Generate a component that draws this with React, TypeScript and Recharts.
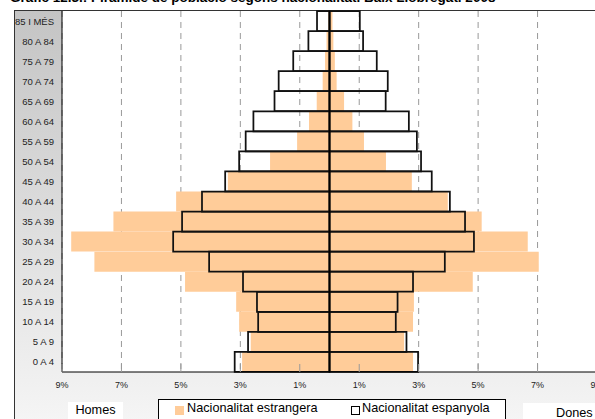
import React from 'react';
import { BarChart, Bar, XAxis, YAxis, CartesianGrid, ReferenceLine } from 'recharts';

// age groups, top to bottom as drawn
const ageGroups = [
  '85 I MÉS', '80 A 84', '75 A 79', '70 A 74', '65 A 69', '60 A 64',
  '55 A 59', '50 A 54', '45 A 49', '40 A 44', '35 A 39', '30 A 34',
  '25 A 29', '20 A 24', '15 A 19', '10 A 14', '5 A 9', '0 A 4',
];

// % of population
const homesEspanyola = [0.42, 0.71, 1.22, 1.71, 1.85, 2.56, 2.82, 3.04, 3.51, 4.29, 4.96, 5.26, 4.05, 2.91, 2.44, 2.4, 2.74, 3.19];
const donesEspanyola = [1.02, 1.13, 1.59, 1.96, 1.89, 2.67, 2.94, 3.08, 3.44, 4.05, 4.56, 4.86, 3.88, 2.81, 2.29, 2.23, 2.59, 2.98];
const homesEstrangera = [0.04, 0.1, 0.15, 0.23, 0.43, 0.69, 1.09, 2.0, 3.42, 5.16, 7.27, 8.69, 7.91, 4.86, 3.14, 3.04, 2.65, 2.94];
const donesEstrangera = [0.1, 0.13, 0.18, 0.24, 0.49, 0.77, 1.16, 1.9, 2.77, 3.98, 5.12, 6.67, 7.04, 4.82, 2.84, 2.81, 2.51, 2.81];

const xTicks = [-9, -7, -5, -3, -1, 1, 3, 5, 7, 9];

const ORANGE = '#FFCC99';
const FONT = '"Liberation Sans", Arial, sans-serif';

const data = ageGroups.map((age, i) => ({
  age,
  homesEst: -homesEstrangera[i],
  donesEst: donesEstrangera[i],
  homesEsp: -homesEspanyola[i],
  donesEsp: donesEspanyola[i],
}));

// tick mark points up into the plot, label sits below the axis
const PctTick = ({ x, y, payload }: any) => (
  <g>
    <line x1={x} x2={x} y1={y - 8} y2={y} stroke="#999" />
    <text x={x} y={y + 16} textAnchor="middle" fontSize={9} fill="#222" fontFamily={FONT}>
      {Math.abs(payload.value)}%
    </text>
  </g>
);

// plain text so the labels don't wrap
const AgeTick = ({ x, y, payload }: any) => (
  <text x={x} y={y} dy={3.5} textAnchor="end" fontSize={9.5} fill="#222" fontFamily={FONT}>
    {payload.value}
  </text>
);

export default function App() {
  return (
    <div style={{ position: 'absolute', left: 0, top: 0, width: 595, height: 419, overflow: 'hidden', background: '#fff', fontFamily: FONT }}>
      <div style={{ position: 'absolute', left: 10, top: -10, fontSize: 13.5, fontWeight: 'bold', color: '#000', whiteSpace: 'nowrap' }}>
        Gràfic 12.3.: Piràmide de població segons nacionalitat. Baix Llobregat. 2008
      </div>

      {/* chart area frame with the grey gradient */}
      <div style={{
        position: 'absolute', left: 14, top: 10, width: 620, height: 420,
        borderLeft: '1px solid #333', borderTop: '1px solid #333',
        background: 'linear-gradient(#c4c4c4, #f6f6f6)',
      }} />

      <div style={{ position: 'absolute', left: 0, top: 0 }}>
        <BarChart
          width={640}
          height={419}
          data={data}
          layout="vertical"
          stackOffset="sign"
          barCategoryGap={0}
          barGap={0}
          margin={{ top: 11, right: 43, bottom: 27, left: 14 }}
        >
          <CartesianGrid horizontal={false} stroke="#999" strokeDasharray="6 5" fill="#fff" />
          <XAxis
            type="number"
            domain={[-9, 9]}
            ticks={xTicks}
            allowDataOverflow
            height={20}
            tickSize={0}
            tickMargin={0}
            tickLine={false}
            axisLine={{ stroke: '#000' }}
            tick={<PctTick />}
            interval={0}
          />
          <YAxis
            yAxisId="a"
            type="category"
            dataKey="age"
            width={48}
            tickLine={false}
            axisLine={{ stroke: '#000' }}
            tick={<AgeTick />}
            interval={0}
          />
          <YAxis yAxisId="b" type="category" dataKey="age" hide />

          <Bar yAxisId="a" dataKey="homesEst" stackId="est" fill={ORANGE} isAnimationActive={false} />
          <Bar yAxisId="a" dataKey="donesEst" stackId="est" fill={ORANGE} isAnimationActive={false} />
          <Bar yAxisId="b" dataKey="homesEsp" stackId="esp" fill="none" stroke="#111" strokeWidth={1.75} isAnimationActive={false} />
          <Bar yAxisId="b" dataKey="donesEsp" stackId="esp" fill="none" stroke="#111" strokeWidth={1.75} isAnimationActive={false} />

          <ReferenceLine yAxisId="a" x={0} stroke="#000" strokeWidth={1.5} />
        </BarChart>
      </div>

      {/* side labels */}
      <div style={{ position: 'absolute', left: 68, top: 402, width: 55, height: 20, background: '#fff', fontSize: 12.7, textAlign: 'center', lineHeight: '15px', paddingTop: 1 }}>
        Homes
      </div>
      <div style={{ position: 'absolute', left: 523, top: 403, width: 80, height: 20, background: '#fff', fontSize: 12.7, lineHeight: '15px', paddingTop: 3 }}>
        <span style={{ marginLeft: 33 }}>Dones</span>
      </div>

      {/* legend */}
      <div style={{
        position: 'absolute', left: 158, top: 399, width: 346, height: 30,
        border: '1px solid #000', background: '#fff', fontSize: 12.7, color: '#000',
      }}>
        <div style={{ position: 'absolute', left: 16, top: 6, width: 9, height: 9, background: ORANGE }} />
        <div style={{ position: 'absolute', left: 28, top: 1, lineHeight: '15px', whiteSpace: 'nowrap' }}>Nacionalitat estrangera</div>
        <div style={{ position: 'absolute', left: 192, top: 6, width: 7, height: 7, border: '1px solid #000', background: '#fff' }} />
        <div style={{ position: 'absolute', left: 203, top: 1, lineHeight: '15px', whiteSpace: 'nowrap' }}>Nacionalitat espanyola</div>
      </div>
    </div>
  );
}
